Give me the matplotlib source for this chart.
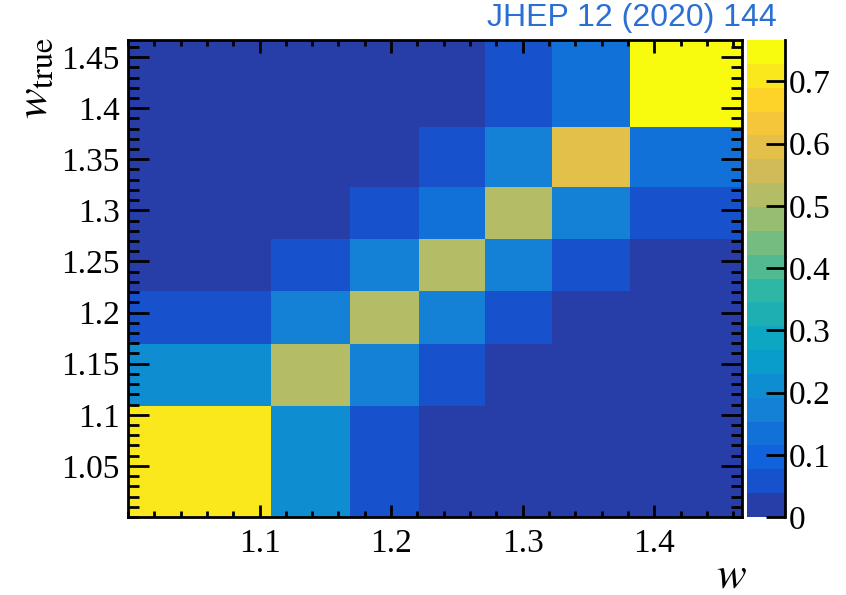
import numpy as np
import matplotlib
matplotlib.use("Agg")
import matplotlib.pyplot as plt
from matplotlib.colors import ListedColormap, BoundaryNorm, LinearSegmentedColormap
from matplotlib.ticker import MultipleLocator

# ---- data ----
w_edges = [1.0, 1.1087, 1.1688, 1.2212, 1.2717, 1.3226, 1.3814, 1.4667]
wtrue_edges = [1.0, 1.1087, 1.1688, 1.2212, 1.2717, 1.3226, 1.3814, 1.4667]
# rows: w_true bins (bottom to top), columns: w bins (left to right)
row0 = [0.71, 0.21, 0.06, 0.012, 0.005, 0.003, 0.002]
row1 = [0.21, 0.52, 0.17, 0.06, 0.012, 0.005, 0.003]
row2 = [0.06, 0.17, 0.52, 0.17, 0.06, 0.012, 0.005]
row3 = [0.012, 0.06, 0.17, 0.52, 0.17, 0.06, 0.012]
row4 = [0.005, 0.012, 0.06, 0.13, 0.52, 0.17, 0.06]
row5 = [0.003, 0.005, 0.012, 0.06, 0.17, 0.59, 0.13]
row6 = [0.002, 0.003, 0.005, 0.012, 0.06, 0.13, 0.76]
zmax = 0.7665
n_contours = 20
cbar_ticks = [0, 0.1, 0.2, 0.3, 0.4, 0.5, 0.6, 0.7]
x_ticks = [1.1, 1.2, 1.3, 1.4]
y_ticks = [1.05, 1.1, 1.15, 1.2, 1.25, 1.3, 1.35, 1.4, 1.45]

Z = np.array([row0, row1, row2, row3, row4, row5, row6])

# ---- ROOT kBird palette ----
stops = [0.0, 0.125, 0.25, 0.375, 0.5, 0.625, 0.75, 0.875, 1.0]
red = [0.2082, 0.0592, 0.0780, 0.0232, 0.1802, 0.5301, 0.8186, 0.9956, 0.9764]
green = [0.1664, 0.3599, 0.5041, 0.6419, 0.7178, 0.7492, 0.7328, 0.7862, 0.9832]
blue = [0.5293, 0.8684, 0.8385, 0.7914, 0.6425, 0.4662, 0.3499, 0.1968, 0.0539]
bird = LinearSegmentedColormap.from_list(
    "bird", list(zip(stops, zip(red, green, blue))), N=255)
band_colors = []
for i in range(n_contours):
    idx = int((i + 0.99) * 255 / n_contours)
    idx = min(idx, 254)
    band_colors.append(bird(idx / 254))
cmap = ListedColormap(band_colors)
levels = np.linspace(0, zmax, n_contours + 1)
norm = BoundaryNorm(levels, cmap.N)

# ---- figure ----
plt.rcParams['font.family'] = ['Liberation Serif', 'DejaVu Serif']
plt.rcParams['mathtext.fontset'] = 'stix'

W, H = 846, 595
fig = plt.figure(figsize=(W / 100, H / 100), dpi=100)
ax = fig.add_axes([128 / W, 1 - 517 / H, (742 - 128) / W, (517 - 40) / H])
mesh = ax.pcolormesh(w_edges, wtrue_edges, Z, cmap=cmap, norm=norm)
ax.set_xlim(w_edges[0], w_edges[-1])
ax.set_ylim(wtrue_edges[0], wtrue_edges[-1])

ax.set_xticks(x_ticks)
ax.set_xticklabels([f"{t:g}" for t in x_ticks])
ax.set_yticks(y_ticks)
ax.set_yticklabels([f"{t:g}" for t in y_ticks])
ax.xaxis.set_minor_locator(MultipleLocator(0.02))
ax.yaxis.set_minor_locator(MultipleLocator(0.01))
ax.tick_params(axis='x', which='major', direction='in', length=9, width=2,
               top=True, labelsize=24, pad=8)
ax.tick_params(axis='x', which='minor', direction='in', length=4.5, width=2, top=True)
ax.tick_params(axis='y', which='major', direction='in', length=15, width=2,
               right=True, labelsize=24, pad=6)
ax.tick_params(axis='y', which='minor', direction='in', length=8, width=2, right=True)
for s in ax.spines.values():
    s.set_linewidth(2)

# axis titles (ROOT style: at the end of the axes)
fig.text(731 / W, 1 - 576 / H, r'$w$', fontsize=32, ha='center', va='center')
fig.text(36 / W, 1 - 37 / H, r'$w_{\mathrm{true}}$', fontsize=33,
         rotation=90, ha='center', va='top')

# colorbar
cax = fig.add_axes([747 / W, 1 - 517 / H, (785 - 747) / W, (517 - 40) / H])
cb = fig.colorbar(mesh, cax=cax, ticks=cbar_ticks, drawedges=False)
cb.outline.set_visible(False)
cax.spines['right'].set_visible(True)
cax.spines['right'].set_linewidth(2)
cax.set_ylim(0, zmax)
cax.set_yticklabels([f"{t:g}" for t in cbar_ticks])
cax.tick_params(axis='y', which='major', direction='in', length=14, width=2,
                labelsize=24, pad=3, right=True, left=False)
cax.minorticks_off()

fig.text(777 / W, 1 - 18 / H, "JHEP 12 (2020) 144", ha='right', va='center',
         fontsize=23, color='#2a6fd2', family='Liberation Sans')

fig.savefig("out.png", dpi=100)
